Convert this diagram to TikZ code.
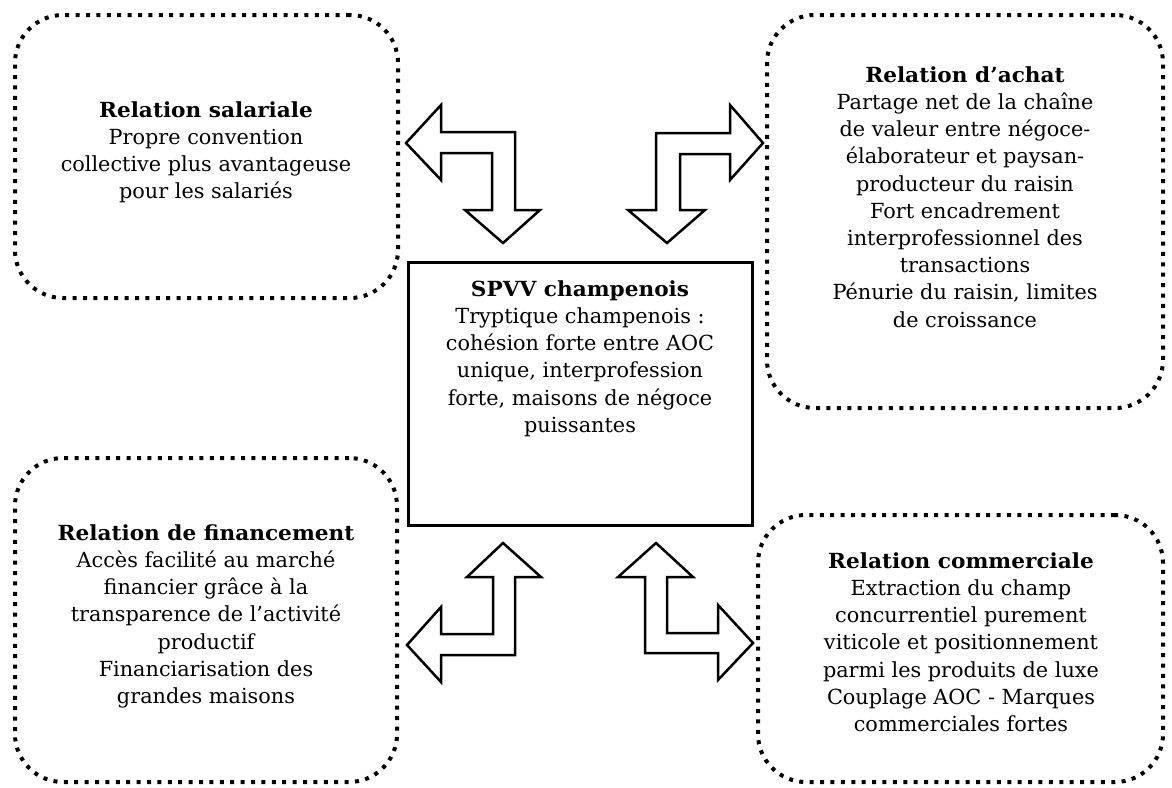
\documentclass[tikz,border=0pt]{standalone}
\usepackage{fontspec}
\setmainfont{DejaVu Serif}[BoldFeatures={FakeStretch=1.04}]
\begin{document}
\begin{tikzpicture}[x=1pt,y=-1pt,
  relbox/.style={draw, line width=4pt, dash pattern=on 4pt off 6.4pt, rounded corners=48pt, inner sep=0pt},
  mainbox/.style={draw, line width=3pt, inner sep=0pt},
  txt/.style={align=center, anchor=north, inner sep=0pt, font=\fontsize{20.8}{27.2}\selectfont},
  blockarrow/.style={draw, line width=2.5pt, fill=white, line join=miter}]
\useasboundingbox (0,0) rectangle (1172,787);
% boxes
\node[relbox, minimum width=383pt, minimum height=283pt] (tl) at (206.5,156.5) {};
\node[relbox, minimum width=396pt, minimum height=393pt] (tr) at (965,211.5) {};
\node[relbox, minimum width=382pt, minimum height=324pt] (bl) at (206,620) {};
\node[relbox, minimum width=405pt, minimum height=267pt] (br) at (960.5,648.5) {};
\node[mainbox, minimum width=344pt, minimum height=263pt] (spvv) at (580,393.5) {};
% texts
\node[txt] (tltxt) at (206,96) {\rule{0pt}{21pt}\textbf{Relation salariale}\\Propre convention\\collective plus avantageuse\\pour les salariés};
\node[txt] (trtxt) at (965,61) {\rule{0pt}{21pt}\textbf{Relation d’achat}\\Partage net de la chaîne\\de valeur entre négoce-\\élaborateur et paysan-\\producteur du raisin\\Fort encadrement\\interprofessionnel des\\transactions\\Pénurie du raisin, limites\\de croissance};
\node[txt] (spvvtxt) at (580,275) {\rule{0pt}{21pt}\textbf{SPVV champenois}\\Tryptique champenois :\\cohésion forte entre AOC\\unique, interprofession\\forte, maisons de négoce\\puissantes};
\node[txt] (bltxt) at (206,519) {\rule{0pt}{21pt}\textbf{Relation de financement}\\Accès facilité au marché\\financier grâce à la\\transparence de l’activité\\productif\\Financiarisation des\\grandes maisons};
\node[txt] (brtxt) at (961,547) {\rule{0pt}{21pt}\textbf{Relation commerciale}\\Extraction du champ\\concurrentiel purement\\viticole et positionnement\\parmi les produits de luxe\\Couplage AOC - Marques\\commerciales fortes};
% block arrows
\draw[blockarrow] (406,143) -- (441,105) -- (441,132) -- (515,132) -- (515,210) -- (540,210) -- (503,243) -- (465,210) -- (492,210) -- (492,153) -- (441,153) -- (441,180) -- cycle;
\draw[blockarrow] (667,243) -- (705,210) -- (680,210) -- (680,154) -- (730,154) -- (730,180) -- (763,143) -- (730,105) -- (730,133) -- (656,133) -- (656,210) -- (628,210) -- cycle;
\draw[blockarrow] (503,543) -- (541,577) -- (515,577) -- (515,655) -- (441,655) -- (441,682) -- (407,645) -- (441,607) -- (441,634) -- (493,634) -- (493,577) -- (467,577) -- cycle;
\draw[blockarrow] (656,543) -- (693,577) -- (667,577) -- (667,633) -- (718,633) -- (718,605) -- (753,643) -- (718,680) -- (718,653) -- (645,653) -- (645,577) -- (618,577) -- cycle;
\end{tikzpicture}
\end{document}
